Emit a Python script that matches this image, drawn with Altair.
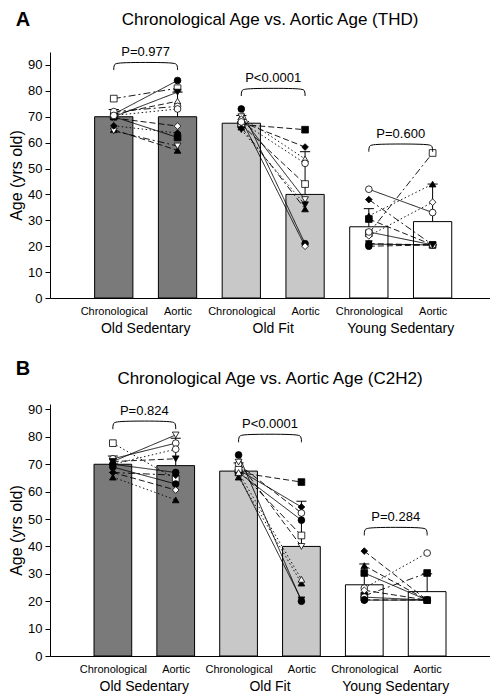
import altair as alt
import pandas as pd

FONT = "Liberation Sans"

GROUPS = ["Old Sedentary", "Old Fit", "Young Sedentary"]
CONDITIONS = ["Chronological", "Aortic"]
BAR_FILLS = ["#7a7a7a", "#c8c8c8", "#ffffff"]

# ---------------- Panel A (THD) ----------------
A_LETTER = "A"
A_TITLE = "Chronological Age vs. Aortic Age (THD)"
A_MEANS = [70, 70, 67.5, 40, 27.5, 29.5]
A_SD = [2.8, 9.5, 3, 16.5, 7, 14.5]
A_P = ["P=0.977", "P<0.0001", "P=0.600"]
A_P_Y = [91, 81, 59.5]

A_OS_CHRON = [77, 71, 70, 71, 72, 69.5, 70, 65, 64.5, 66.5, 70.5]
A_OS_AORTIC = [81, 84, 79.5, 76, 74, 66.4, 62, 57, 58.7, 63.7, 73]
A_OS_MARK = ["sq-o", "ci-f", "td-f", "tu-o", "ci-o", "di-o", "sq-f", "tu-f", "td-o", "di-f", "ci-o"]
A_OS_DASH = ["dashdot", "solid", "solid", "dash", "dashdot", "dash", "solid", "dash", "dashdot", "dot", "dot"]

A_OF_CHRON = [73, 67, 68, 70, 67, 70, 66, 69, 68, 65]
A_OF_AORTIC = [21, 65, 58.3, 53.7, 44, 38, 34.4, 20, 52, 36]
A_OF_MARK = ["ci-f", "sq-f", "di-f", "tu-o", "sq-o", "td-o", "tu-f", "di-o", "ci-o", "td-f"]
A_OF_DASH = ["solid", "dash", "dash", "dot", "dash", "solid", "dashdot", "solid", "dot", "dot"]

A_YS_CHRON = [42, 38, 25, 31.7, 30.5, 24, 20.8, 20, 25.5, 21]
A_YS_AORTIC = [33, 20.5, 56, 44, 20.5, 37, 20.5, 20.5, 20.5, 20.5]
A_YS_MARK = ["ci-o", "di-f", "sq-o", "tu-f", "sq-f", "di-o", "ci-f", "ci-f", "ci-o", "td-f"]
A_YS_DASH = ["solid", "dashdot", "dashdot", "dot", "dash", "dot", "solid", "dash", "solid", "dash"]

# ---------------- Panel B (C2H2) ----------------
B_LETTER = "B"
B_TITLE = "Chronological Age vs. Aortic Age (C2H2)"
B_MEANS = [70, 69.5, 67.5, 40, 26, 23.5]
B_SD = [3, 10, 3, 16.5, 7.6, 6.5]
B_P = ["P=0.824", "P<0.0001", "P=0.284"]
B_P_Y = [85.8, 81, 47]

B_OS_CHRON = [77.7, 71, 72, 70, 71, 70, 69, 67, 65.3, 67]
B_OS_AORTIC = [64.6, 80.7, 77.7, 75.5, 72, 67, 62.8, 60.6, 57, 66]
B_OS_MARK = ["sq-o", "td-o", "ci-o", "ci-o", "td-f", "ci-f", "ci-f", "di-o", "tu-f", "di-f"]
B_OS_DASH = ["dot", "solid", "solid", "dot", "dash", "solid", "solid", "dash", "dot", "dashdot"]

B_OF_CHRON = [73.4, 67, 68, 70, 67, 68, 70.8, 65.3, 66, 67]
B_OF_AORTIC = [20, 63.5, 54.4, 52.2, 49.6, 44, 40, 26.6, 20.5, 28]
B_OF_MARK = ["ci-f", "sq-f", "di-f", "ci-o", "ci-f", "sq-o", "td-o", "tu-f", "td-f", "tu-o"]
B_OF_DASH = ["solid", "dash", "solid", "dash", "solid", "dashdot", "dash", "dot", "solid", "dot"]

B_YS_CHRON = [38.3, 33, 30.3, 24.8, 22, 21.5, 20.4, 24, 20.5]
B_YS_AORTIC = [20.4, 20.4, 20.4, 37.6, 30.3, 20.4, 20.4, 20.4, 20.4]
B_YS_MARK = ["di-f", "tu-f", "sq-f", "ci-o", "sq-f", "ci-o", "ci-f", "di-o", "ci-f"]
B_YS_DASH = ["dash", "dash", "solid", "dot", "dashdot", "solid", "solid", "dash", "dash"]

Y_TICKS = [0, 10, 20, 30, 40, 50, 60, 70, 80, 90]

SHAPES = {"sq": "square", "ci": "circle", "td": "triangle-down", "tu": "triangle-up", "di": "diamond"}
FILLS = {"o": "white", "f": "black"}
DASH_NAMES = ["solid", "dash", "dashdot", "dot"]
DASH_ARRAYS = [[1, 0], [6, 3], [7, 3, 2, 3], [1.5, 2.5]]


def subjects_df(chrons, aortics, marks, dashes):
    rows = []
    for g, (c, a, m, d) in enumerate(zip(chrons, aortics, marks, dashes)):
        for i in range(len(c)):
            sh, fl = m[i].split("-")
            for k, v in enumerate((c[i], a[i])):
                rows.append({"pos": 2 * g + 1 + k, "val": v, "subj": f"{g}-{i}",
                             "shape": SHAPES[sh], "fill": FILLS[fl], "dash": d[i]})
    return pd.DataFrame(rows)


def panel(letter, title, means, sd, chrons, aortics, marks, dashes, plabels, py,
          ymax, height, xmax, letter_y, title_y):
    W = 440
    xs = alt.Scale(domain=[0, xmax], nice=False, zero=False)
    ys = alt.Scale(domain=[0, ymax], nice=False)
    x_axis = alt.Axis(values=[1, 2, 3, 4, 5, 6],
                      labelExpr="datum.value % 2 == 1 ? 'Chronological' : 'Aortic'",
                      ticks=False, grid=False, domainColor="black", labelColor="black",
                      labelFontSize=11, labelPadding=7, labelFont=FONT, title=None,
                      labelFlush=False, labelOverlap=False)
    y_axis = alt.Axis(values=Y_TICKS, grid=False, tickSize=5,
                      tickColor="black", domainColor="black", labelColor="black",
                      labelFontSize=13, labelFont=FONT, labelPadding=3, labelOverlap=False,
                      title="Age (yrs old)", titleFont=FONT, titleFontSize=16,
                      titleFontWeight="normal", titleColor="black", titlePadding=3)

    def X(f):
        return alt.X(f, scale=xs, axis=x_axis)

    def Y(f):
        return alt.Y(f, scale=ys, axis=y_axis)

    bars = pd.DataFrame({
        "pos": list(range(1, 7)),
        "mean": means,
        "top": [m + s for m, s in zip(means, sd)],
        "barfill": [f for f in BAR_FILLS for _ in (0, 1)],
    })
    base = alt.Chart(bars)
    bar = base.transform_calculate(x1="datum.pos - 0.3", x2="datum.pos + 0.3").mark_bar(
        stroke="black", strokeWidth=1).encode(
        x=X("x1:Q"), x2="x2:Q", y=Y("mean:Q"), y2=alt.datum(0),
        fill=alt.Fill("barfill:N", scale=None))
    err = base.mark_rule(color="black", strokeWidth=1).encode(
        x=X("pos:Q"), y=Y("mean:Q"), y2="top:Q")
    cap = base.transform_calculate(c1="datum.pos - 0.08", c2="datum.pos + 0.08").mark_rule(
        color="black", strokeWidth=1).encode(x=X("c1:Q"), x2="c2:Q", y=Y("top:Q"))

    subj = alt.Chart(subjects_df(chrons, aortics, marks, dashes))
    lines = subj.mark_line(color="black", strokeWidth=0.9).encode(
        x=X("pos:Q"), y=Y("val:Q"), detail="subj:N",
        strokeDash=alt.StrokeDash("dash:N", scale=alt.Scale(domain=DASH_NAMES, range=DASH_ARRAYS),
                                  legend=None))
    pts = subj.mark_point(filled=True, size=45, stroke="black", strokeWidth=0.8, opacity=1).encode(
        x=X("pos:Q"), y=Y("val:Q"),
        shape=alt.Shape("shape:N", scale=None), fill=alt.Fill("fill:N", scale=None))

    brows = []
    for k, h in enumerate(py):
        a, b = 2 * k + 1, 2 * k + 2
        bx = [a, a, a + 0.06, b - 0.06, b, b]
        by = [h - 3, h - 0.8, h, h, h - 0.8, h - 3]
        for j, (xx, yy) in enumerate(zip(bx, by)):
            brows.append({"b": k, "o": j, "bx": xx, "by": yy})
    brackets = alt.Chart(pd.DataFrame(brows)).mark_line(
        color="black", strokeWidth=1, interpolate="basis").encode(
        x=X("bx:Q"), y=Y("by:Q"), detail="b:N", order="o:Q")
    ptext = alt.Chart(pd.DataFrame({"px": [1.5, 3.5, 5.5], "py": py, "t": plabels})).mark_text(
        font=FONT, fontSize=13, dy=-10, baseline="middle", color="black").encode(
        x=X("px:Q"), y=Y("py:Q"), text="t:N")

    glabels = alt.Chart(pd.DataFrame({"gx": [1.5, 3.5, 5.5], "g": GROUPS})).mark_text(
        font=FONT, fontSize=14, baseline="middle", color="black").encode(
        x=X("gx:Q"), y=alt.value(height + 31), text="g:N")
    ttl = alt.Chart(pd.DataFrame({"t": [title]})).mark_text(
        font=FONT, fontSize=17, baseline="middle", color="black").encode(
        x=alt.value(W / 2), y=alt.value(title_y), text="t:N")
    let = alt.Chart(pd.DataFrame({"t": [letter]})).mark_text(
        font=FONT, fontSize=20, fontWeight="bold", baseline="middle", color="black").encode(
        x=alt.value(-27), y=alt.value(letter_y), text="t:N")

    return alt.layer(bar, err, cap, lines, pts, brackets, ptext, glabels, ttl, let).properties(
        width=W, height=height)


pA = panel(A_LETTER, A_TITLE, A_MEANS, A_SD,
           [A_OS_CHRON, A_OF_CHRON, A_YS_CHRON], [A_OS_AORTIC, A_OF_AORTIC, A_YS_AORTIC],
           [A_OS_MARK, A_OF_MARK, A_YS_MARK], [A_OS_DASH, A_OF_DASH, A_YS_DASH],
           A_P, A_P_Y, 95, 246, 6.9, -32, -32.5)
pB = panel(B_LETTER, B_TITLE, B_MEANS, B_SD,
           [B_OS_CHRON, B_OF_CHRON, B_YS_CHRON], [B_OS_AORTIC, B_OF_AORTIC, B_YS_AORTIC],
           [B_OS_MARK, B_OF_MARK, B_YS_MARK], [B_OS_DASH, B_OF_DASH, B_YS_DASH],
           B_P, B_P_Y, 92, 252, 7.0, -35, -25)

chart = alt.vconcat(pA, pB, spacing=23).properties(
    padding={"top": 2, "bottom": 0, "left": 0, "right": 0}).configure_view(stroke=None)

chart.save("out.html", embed_options={"renderer": "svg", "actions": False})
